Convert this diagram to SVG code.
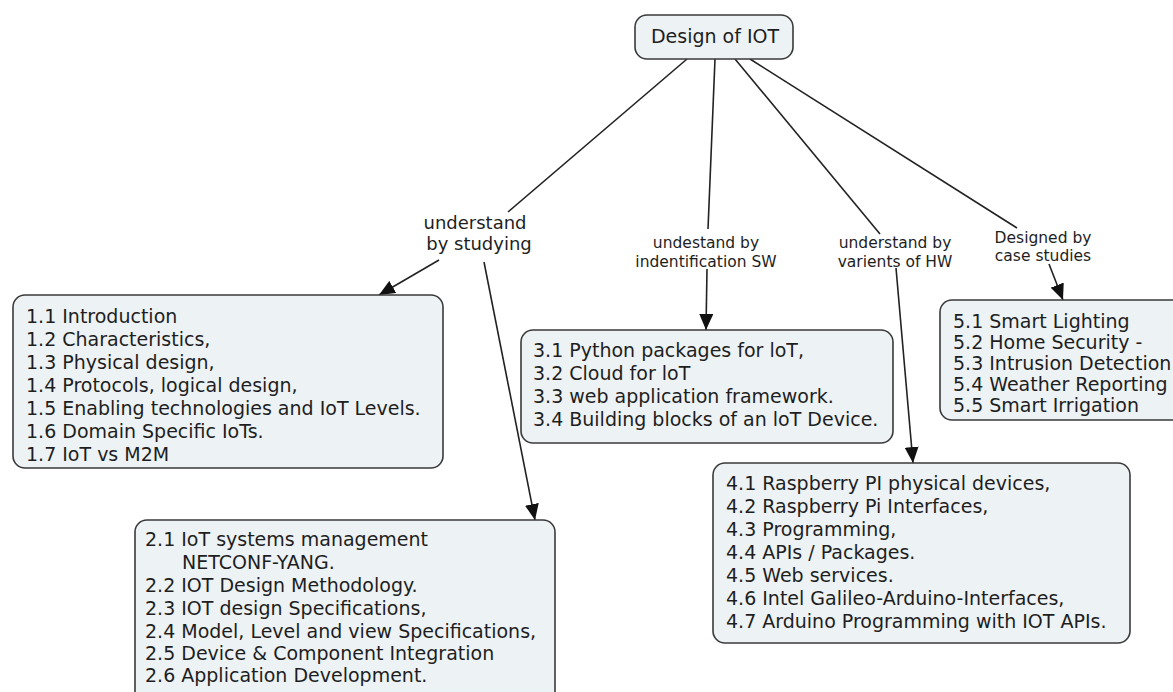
<svg xmlns="http://www.w3.org/2000/svg" width="1173" height="692" viewBox="0 0 1173 692">
<style>
.box{fill:#edf2f5;stroke:#3a3a3a;stroke-width:1.6}
.t{font-family:"DejaVu Sans",Verdana,sans-serif;font-size:19px;fill:#1e1e1e}
.lbl{font-family:"DejaVu Sans",Verdana,sans-serif;font-size:15.5px;fill:#1e1e1e;text-anchor:middle}
.lbl2{font-family:"DejaVu Sans",Verdana,sans-serif;font-size:18px;fill:#1e1e1e;text-anchor:middle}
.c{stroke:#222;stroke-width:1.6;fill:none}
.a{marker-end:url(#arr)}
</style>
<defs>
<marker id="arr" viewBox="0 0 16 14" refX="16" refY="7" markerWidth="16" markerHeight="14" markerUnits="userSpaceOnUse" orient="auto">
<path d="M0,0 L16,7 L0,14 z" fill="#111"/>
</marker>
</defs>
<rect width="1173" height="692" fill="#fff"/>
<g id="connectors">
<line class="c" x1="687" y1="59" x2="508" y2="212"/>
<line class="c a" x1="439" y1="260" x2="379" y2="295"/>
<line class="c a" x1="484" y1="262" x2="535" y2="520"/>
<line class="c" x1="715" y1="59" x2="708" y2="229"/>
<line class="c a" x1="707" y1="269" x2="706" y2="330"/>
<line class="c" x1="735" y1="59" x2="880" y2="234"/>
<line class="c a" x1="896" y1="268" x2="913" y2="463"/>
<line class="c" x1="750" y1="59" x2="1017" y2="228"/>
<line class="c a" x1="1049" y1="264" x2="1063" y2="300"/>
</g>
<g id="root">
<rect class="box" x="635" y="15" width="158" height="44" rx="12"/>
<text class="t" x="715" y="43" text-anchor="middle">Design of IOT</text>
</g>
<g id="label-studying">
<text class="lbl2" x="475" y="229">understand</text>
<text class="lbl2" x="479" y="250">by studying</text>
</g>
<g id="label-sw">
<text class="lbl" x="706" y="248">undestand by</text>
<text class="lbl" x="706" y="267">indentification SW</text>
</g>
<g id="label-hw">
<text class="lbl" x="895" y="248">understand by</text>
<text class="lbl" x="895" y="267">varients of HW</text>
</g>
<g id="label-case">
<text class="lbl" x="1043" y="243">Designed by</text>
<text class="lbl" x="1043" y="261">case studies</text>
</g>
<g id="box1">
<rect class="box" x="13" y="295" width="430" height="173" rx="12"/>
<text class="t" x="26" y="323">1.1 Introduction</text>
<text class="t" x="26" y="346">1.2 Characteristics,</text>
<text class="t" x="26" y="369">1.3 Physical design,</text>
<text class="t" x="26" y="392">1.4 Protocols, logical design,</text>
<text class="t" x="26" y="415">1.5 Enabling technologies and IoT Levels.</text>
<text class="t" x="26" y="438">1.6 Domain Specific IoTs.</text>
<text class="t" x="26" y="461">1.7 IoT vs M2M</text>
</g>
<g id="box2">
<rect class="box" x="135" y="520" width="420" height="200" rx="12"/>
<text class="t" x="145" y="546">2.1 IoT systems management</text>
<text class="t" x="182" y="569">NETCONF-YANG.</text>
<text class="t" x="145" y="592">2.2 IOT Design Methodology.</text>
<text class="t" x="145" y="615">2.3 IOT design Specifications,</text>
<text class="t" x="145" y="638">2.4 Model, Level and view Specifications,</text>
<text class="t" x="145" y="660">2.5 Device &amp; Component Integration</text>
<text class="t" x="145" y="682">2.6 Application Development.</text>
</g>
<g id="box3">
<rect class="box" x="521" y="330" width="372" height="113" rx="12"/>
<text class="t" x="533" y="357">3.1 Python packages for loT,</text>
<text class="t" x="533" y="380">3.2 Cloud for loT</text>
<text class="t" x="533" y="403">3.3 web application framework.</text>
<text class="t" x="533" y="426">3.4 Building blocks of an loT Device.</text>
</g>
<g id="box4">
<rect class="box" x="713" y="463" width="417" height="180" rx="12"/>
<text class="t" x="726" y="490">4.1 Raspberry PI physical devices,</text>
<text class="t" x="726" y="513">4.2 Raspberry Pi Interfaces,</text>
<text class="t" x="726" y="536">4.3 Programming,</text>
<text class="t" x="726" y="559">4.4 APIs / Packages.</text>
<text class="t" x="726" y="582">4.5 Web services.</text>
<text class="t" x="726" y="605">4.6 Intel Galileo-Arduino-Interfaces,</text>
<text class="t" x="726" y="628">4.7 Arduino Programming with IOT APIs.</text>
</g>
<g id="box5">
<rect class="box" x="940" y="300" width="260" height="120" rx="12"/>
<text class="t" x="953" y="328">5.1 Smart Lighting</text>
<text class="t" x="953" y="349">5.2 Home Security -</text>
<text class="t" x="953" y="370">5.3 Intrusion Detection</text>
<text class="t" x="953" y="391">5.4 Weather Reporting</text>
<text class="t" x="953" y="412">5.5 Smart Irrigation</text>
</g>
</svg>
